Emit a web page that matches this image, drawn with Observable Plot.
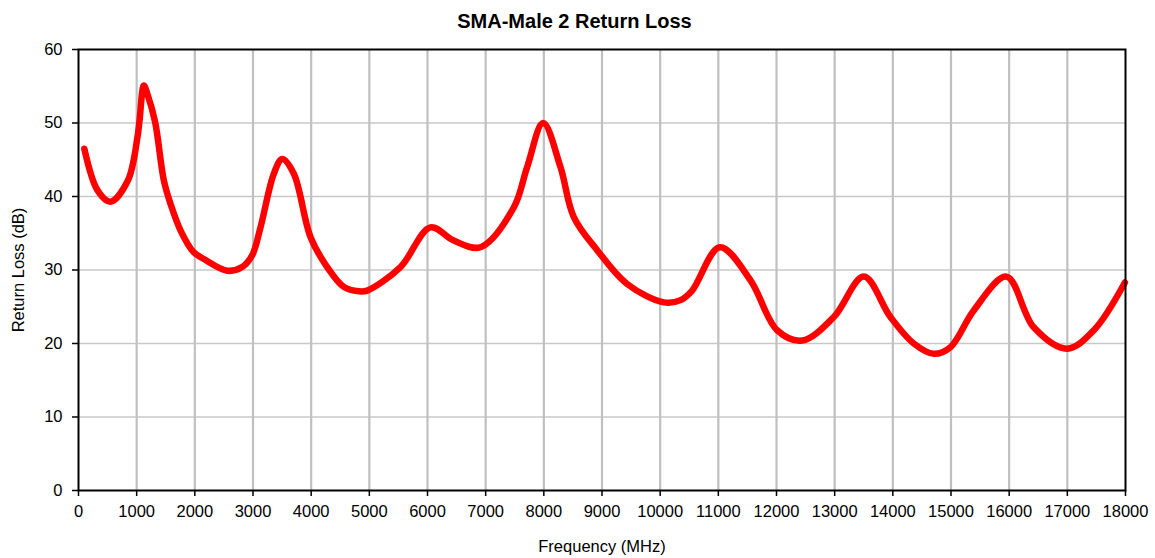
<!DOCTYPE html>
<html>
<head>
<meta charset="utf-8">
<script src="https://cdn.jsdelivr.net/npm/d3@7"></script>
<script src="https://cdn.jsdelivr.net/npm/@observablehq/plot@0.6"></script>
<style>
  html, body { margin: 0; padding: 0; background: #fff; }
  body { width: 1155px; height: 558px; overflow: hidden; font-family: "Liberation Sans", Arial, sans-serif; }
  #title { height: 40px; line-height: 42px; text-align: center; font-weight: bold; font-size: 20px; color: #000; padding-right: 6px; }
</style>
</head>
<body>
<div id="title">SMA-Male 2 Return Loss</div>
<div id="chart"></div>
<script>
const freq = [100, 330, 550, 850, 1014, 1050, 1123, 1190, 1318, 1467, 1582, 1753, 1982, 2154, 2556, 2814, 2986, 3129, 3358, 3502, 3702, 3988, 4275, 4561, 4819, 4963, 5535, 6051, 6452, 6911, 7483, 7713, 7988, 8286, 8515, 8917, 9432, 10062, 10350, 10550, 11025, 11553, 12011, 12441, 12985, 13500, 13959, 14360, 14704, 14990, 15391, 15953, 16423, 16996, 17455, 17990];
const returnLoss = [46.5, 40.8, 39.3, 42.2, 48.1, 50.4, 55.1, 53.8, 50.1, 42.2, 39.0, 35.4, 32.4, 31.5, 29.9, 30.4, 32.0, 35.8, 43.1, 45.1, 43.1, 34.5, 30.4, 27.7, 27.1, 27.2, 30.4, 35.8, 34.0, 33.1, 38.5, 44.0, 50.0, 44.0, 37.2, 32.7, 28.1, 25.6, 25.9, 27.2, 33.1, 28.6, 21.8, 20.4, 23.6, 29.1, 23.6, 20.0, 18.6, 19.5, 24.5, 29.1, 22.2, 19.3, 21.8, 28.3];
const xTicks = d3.range(0, 18001, 1000);
const yTicks = d3.range(0, 61, 10);

const data = freq.map((f, i) => ({f, v: returnLoss[i]}));
const font = '"Liberation Sans", Arial, sans-serif';

const chart = Plot.plot({
  width: 1155,
  height: 518,
  marginLeft: 78,
  marginRight: 30,
  marginTop: 9,
  marginBottom: 68,
  style: {fontFamily: font, fontSize: "16.5px", color: "#000", background: "#fff"},
  x: {domain: [0, 18000]},
  y: {domain: [0, 60]},
  marks: [
    Plot.ruleY(yTicks.filter(d => d > 0 && d < 60), {stroke: "#c8c8c8", strokeWidth: 1.5}),
    Plot.ruleX(xTicks.filter(d => d > 0 && d < 18000), {stroke: "#c0c0c0", strokeWidth: 2.2}),
    Plot.line(data, {x: "f", y: "v", stroke: "#ff0000", strokeWidth: 6.5, curve: "catmull-rom", strokeLinecap: "round", strokeLinejoin: "round"}),
    Plot.axisX({ticks: xTicks, tickSize: 6, tickPadding: 9, tickFormat: d => String(d), fontSize: 16.5, stroke: "#000", strokeWidth: 1.5,
      label: "Frequency (MHz)", labelAnchor: "center", labelArrow: "none", labelOffset: 61}),
    Plot.axisY({ticks: yTicks, tickSize: 6, tickPadding: 10, fontSize: 16.5, stroke: "#000", strokeWidth: 1.5,
      label: "Return Loss (dB)", labelAnchor: "center", labelArrow: "none", labelOffset: 66}),
    Plot.frame({stroke: "#000", strokeWidth: 2})
  ]
});
document.getElementById("chart").appendChild(chart);
</script>
</body>
</html>
